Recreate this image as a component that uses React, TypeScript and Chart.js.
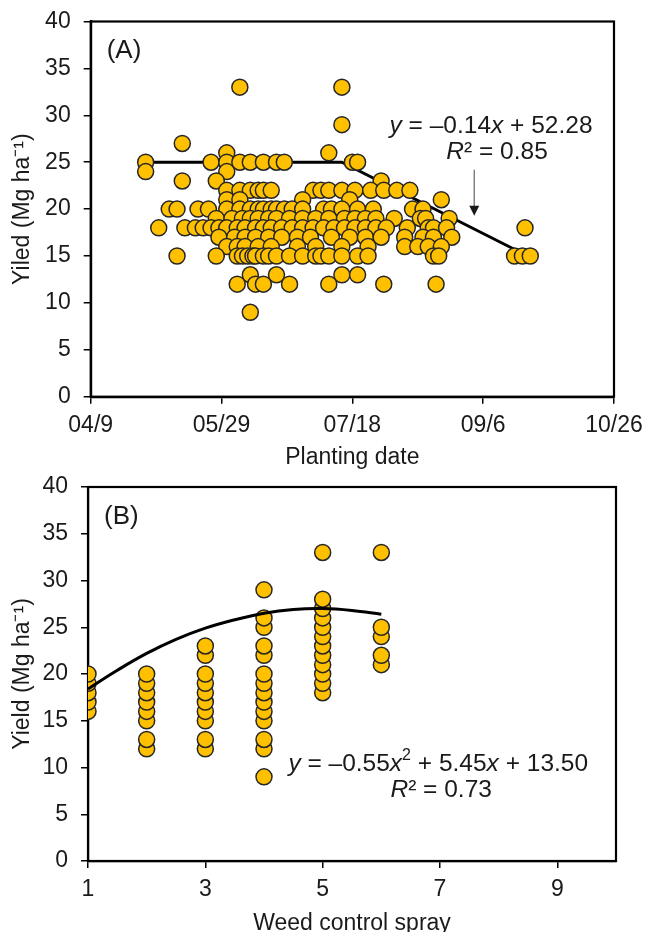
import React, { useEffect, useRef } from "react";
import { Chart, registerables } from "chart.js";

Chart.register(...registerables);

const FONT_FAMILY = "'Liberation Sans', Arial, sans-serif";
const TEXT_COLOR = "#1a1a1a";
const POINT_FILL = "#FFC000";
const POINT_EDGE = "#262626";

// ---------- Panel A: yield vs planting date (day of year) ----------
const tickDaysA = [99, 149, 199, 249, 299];
const tickLabelsA = ["04/9", "05/29", "07/18", "09/6", "10/26"];

const rowYieldA = [33, 29, 27, 26, 25, 24, 23, 22, 21, 20, 19, 18, 17, 16, 15, 13, 12, 9];
const rowDaysA = [
  [156, 195],
  [195],
  [134],
  [151, 190],
  [120, 145, 151, 156, 160, 165, 170, 173, 199, 201],
  [120, 151],
  [134, 147, 210],
  [151, 156, 160, 163, 165, 168, 184, 187, 190, 195, 200, 206, 211, 216, 221],
  [151, 156, 180, 198, 233],
  [129, 132, 140, 144, 151, 156, 160, 163, 165, 168, 170, 173, 176, 180, 188, 191, 195, 201, 207, 222, 226],
  [147, 153, 157, 160, 163, 167, 170, 175, 180, 185, 190, 196, 200, 204, 208, 215, 225, 227, 236],
  [125, 135, 139, 142, 145, 148, 151, 155, 158, 162, 165, 168, 172, 176, 180, 184, 188, 192, 196, 200, 204, 208, 212, 220, 228, 230, 235, 265],
  [148, 154, 158, 162, 167, 172, 178, 183, 191, 198, 204, 210, 219, 226, 230, 237],
  [151, 155, 158, 163, 168, 178, 185, 195, 205, 219, 224, 228, 233],
  [132, 147, 155, 157, 159, 161, 162, 165, 167, 170, 175, 180, 185, 187, 190, 195, 201, 205, 230, 232, 261, 264, 267],
  [160, 170, 195, 201],
  [155, 162, 165, 175, 190, 211, 231],
  [160],
];

const trendDaysA = [120, 195, 266];
const trendYieldA = [25, 25, 15.0];

// ---------- Panel B: yield vs number of weed control sprays ----------
const sprayCountsB = [1, 2, 3, 4, 5, 6];
const yieldBySprayB = [
  [16, 17, 18, 19, 20],
  [12, 13, 15, 16, 17, 18, 19, 20],
  [12, 13, 15, 16, 17, 18, 19, 20, 22, 23],
  [9, 12, 13, 15, 16, 17, 18, 19, 20, 22, 23, 25, 26, 29],
  [18, 19, 20, 21, 22, 23, 24, 25, 26, 27, 28, 33],
  [21, 22, 24, 25, 33],
];
const curveSprayB = [1, 1.5, 2, 2.5, 3, 3.5, 4, 4.5, 5, 5.5, 6];
const curveYieldB = [18.4, 20.4, 22.2, 23.7, 24.9, 25.8, 26.5, 26.9, 27.0, 26.8, 26.4];
const tickValuesB = [1, 3, 5, 7, 9];

type Run = { t: string; i?: boolean; sup?: boolean };

const ANNOT_SIZE = 24.5;

function drawRuns(ctx: CanvasRenderingContext2D, runs: Run[], cx: number, cy: number, size: number) {
  const fontFor = (r: Run) =>
    `${r.i ? "italic " : ""}${r.sup ? Math.round(size * 0.65) : size}px ${FONT_FAMILY}`;
  let total = 0;
  const widths = runs.map((r) => {
    ctx.font = fontFor(r);
    const w = ctx.measureText(r.t).width;
    total += w;
    return w;
  });
  let x = cx - total / 2;
  ctx.textAlign = "left";
  ctx.textBaseline = "middle";
  ctx.fillStyle = TEXT_COLOR;
  runs.forEach((r, k) => {
    ctx.font = fontFor(r);
    ctx.fillText(r.t, x, r.sup ? cy - size * 0.33 : cy);
    x += widths[k];
  });
}

const framePlugin = {
  id: "frameBox",
  beforeDatasetsDraw(chart: any) {
    const { ctx, chartArea: a } = chart;
    ctx.save();
    ctx.strokeStyle = "#000";
    ctx.lineWidth = 2.2;
    ctx.strokeRect(a.left, a.top, a.right - a.left, a.bottom - a.top);
    ctx.restore();
  },
};

function makeAnnotPlugin(cfg: {
  label: string;
  lines: { runs: Run[]; x: number; y: number }[];
  arrow?: { x: number; y1: number; y2: number };
}) {
  return {
    id: "annot" + cfg.label,
    afterDraw(chart: any) {
      const { ctx, chartArea: a, scales } = chart;
      ctx.save();
      ctx.font = `26px ${FONT_FAMILY}`;
      ctx.fillStyle = TEXT_COLOR;
      ctx.textAlign = "left";
      ctx.textBaseline = "middle";
      ctx.fillText(cfg.label, a.left + 16, a.top + 29.5);
      cfg.lines.forEach((ln) => {
        drawRuns(ctx, ln.runs, scales.x.getPixelForValue(ln.x), scales.y.getPixelForValue(ln.y), ANNOT_SIZE);
      });
      if (cfg.arrow) {
        const ax = scales.x.getPixelForValue(cfg.arrow.x);
        const y1 = scales.y.getPixelForValue(cfg.arrow.y1);
        const y2 = scales.y.getPixelForValue(cfg.arrow.y2);
        ctx.strokeStyle = "#7f7f7f";
        ctx.lineWidth = 1.5;
        ctx.beginPath();
        ctx.moveTo(ax, y1);
        ctx.lineTo(ax, y2 - 9);
        ctx.stroke();
        ctx.fillStyle = "#1a1a1a";
        ctx.beginPath();
        ctx.moveTo(ax - 5, y2 - 10);
        ctx.lineTo(ax + 5, y2 - 10);
        ctx.lineTo(ax, y2);
        ctx.closePath();
        ctx.fill();
      }
      ctx.restore();
    },
  };
}

const tickFont = { family: FONT_FAMILY, size: 23 };

function axisCommon() {
  return {
    grid: { display: true, drawOnChartArea: false, drawTicks: true, tickLength: 7, color: "#000", lineWidth: 1.5 },
    border: { display: true, color: "#000", width: 2.2 },
  };
}

const CANVAS_H = 471;

function fixX(height: number) {
  return (s: any) => {
    s.height = height;
    s.paddingLeft = 0;
    s.paddingRight = 0;
  };
}
function fixY(width: number) {
  return (s: any) => {
    s.width = width;
    s.paddingTop = 0;
    s.paddingBottom = 0;
  };
}

function makeConfigA(): any {
  const pts = rowDaysA.flatMap((days, i) => days.map((d) => ({ x: d, y: rowYieldA[i] })));
  const trend = trendDaysA.map((d, i) => ({ x: d, y: trendYieldA[i] }));
  return {
    type: "scatter",
    data: {
      datasets: [
        {
          data: pts,
          backgroundColor: POINT_FILL,
          borderColor: POINT_EDGE,
          borderWidth: 1.5,
          pointRadius: 8,
        },
        {
          data: trend,
          showLine: true,
          borderColor: "#000",
          borderWidth: 3,
          pointRadius: 0,
          fill: false,
        },
      ],
    },
    options: {
      animation: false,
      responsive: false,
      events: [],
      layout: { padding: { left: 0, right: 32, top: 21.5, bottom: 0 } },
      plugins: { legend: { display: false }, tooltip: { enabled: false } },
      scales: {
        x: {
          type: "linear",
          min: tickDaysA[0],
          max: tickDaysA[tickDaysA.length - 1],
          afterBuildTicks: (s: any) => {
            s.ticks = tickDaysA.map((v) => ({ value: v }));
          },
          afterFit: fixX(CANVAS_H - 396.7),
          ticks: {
            callback: (v: number) => tickLabelsA[tickDaysA.indexOf(v)],
            font: tickFont,
            color: TEXT_COLOR,
            padding: 8,
            maxRotation: 0,
            autoSkip: false,
          },
          title: { display: true, text: "Planting date", font: tickFont, color: TEXT_COLOR, padding: { top: 0, bottom: 0 } },
          ...axisCommon(),
        },
        y: {
          min: 0,
          max: 40,
          afterFit: fixY(90.7),
          ticks: { stepSize: 5, font: tickFont, color: TEXT_COLOR, padding: 13 },
          title: { display: true, text: "Yiled (Mg ha⁻¹)", font: tickFont, color: TEXT_COLOR, padding: { top: 9, bottom: 0 } },
          ...axisCommon(),
        },
      },
    },
    plugins: [
      framePlugin,
      makeAnnotPlugin({
        label: "(A)",
        lines: [
          { runs: [{ t: "y", i: true }, { t: " = –0.14" }, { t: "x", i: true }, { t: " + 52.28" }], x: 252.0, y: 28.86 },
          { runs: [{ t: "R", i: true }, { t: "² = 0.85" }], x: 254.3, y: 26.1 },
        ],
        arrow: { x: 245.6, y1: 24.2, y2: 19.3 },
      }),
    ],
  };
}

function makeConfigB(): any {
  const pts = sprayCountsB.flatMap((s, i) => yieldBySprayB[i].map((y) => ({ x: s, y })));
  const curve = curveSprayB.map((s, i) => ({ x: s, y: curveYieldB[i] }));
  return {
    type: "scatter",
    data: {
      datasets: [
        {
          data: curve,
          showLine: true,
          borderColor: "#000",
          borderWidth: 3,
          pointRadius: 0,
          tension: 0.4,
          fill: false,
        },
        {
          data: pts,
          backgroundColor: POINT_FILL,
          borderColor: POINT_EDGE,
          borderWidth: 1.5,
          pointRadius: 8,
        },
      ],
    },
    options: {
      animation: false,
      responsive: false,
      events: [],
      layout: { padding: { left: 0, right: 30, top: 21, bottom: 0 } },
      plugins: { legend: { display: false }, tooltip: { enabled: false } },
      scales: {
        x: {
          type: "linear",
          min: 1,
          max: 10,
          afterBuildTicks: (s: any) => {
            s.ticks = tickValuesB.map((v) => ({ value: v }));
          },
          afterFit: fixX(CANVAS_H - 395),
          ticks: { font: tickFont, color: TEXT_COLOR, padding: 8, maxRotation: 0, autoSkip: false },
          title: { display: true, text: "Weed control spray", font: tickFont, color: TEXT_COLOR, padding: { top: 0, bottom: 0 } },
          ...axisCommon(),
        },
        y: {
          min: 0,
          max: 40,
          afterFit: fixY(88),
          ticks: { stepSize: 5, font: tickFont, color: TEXT_COLOR, padding: 13 },
          title: { display: true, text: "Yield (Mg ha⁻¹)", font: tickFont, color: TEXT_COLOR, padding: { top: 9, bottom: 0 } },
          ...axisCommon(),
        },
      },
    },
    plugins: [
      framePlugin,
      makeAnnotPlugin({
        label: "(B)",
        lines: [
          {
            runs: [
              { t: "y", i: true },
              { t: " = –0.55" },
              { t: "x", i: true },
              { t: "2", sup: true },
              { t: " + 5.45" },
              { t: "x", i: true },
              { t: " + 13.50" },
            ],
            x: 6.97,
            y: 10.37,
          },
          { runs: [{ t: "R", i: true }, { t: "² = 0.73" }], x: 7.02, y: 7.6 },
        ],
      }),
    ],
  };
}

function ChartCanvas({ make, top }: { make: () => any; top: number }) {
  const ref = useRef<HTMLCanvasElement | null>(null);
  useEffect(() => {
    if (!ref.current) return;
    const chart = new Chart(ref.current, make());
    return () => chart.destroy();
  }, [make]);
  return (
    <canvas
      ref={ref}
      width={646}
      height={CANVAS_H}
      style={{ position: "absolute", left: 0, top, width: 646, height: CANVAS_H }}
    />
  );
}

export default function App() {
  return (
    <div
      style={{
        position: "fixed",
        left: 0,
        top: 0,
        width: 646,
        height: 932,
        overflow: "hidden",
        background: "#fff",
      }}
    >
      <ChartCanvas make={makeConfigA} top={0} />
      <ChartCanvas make={makeConfigB} top={466} />
    </div>
  );
}
